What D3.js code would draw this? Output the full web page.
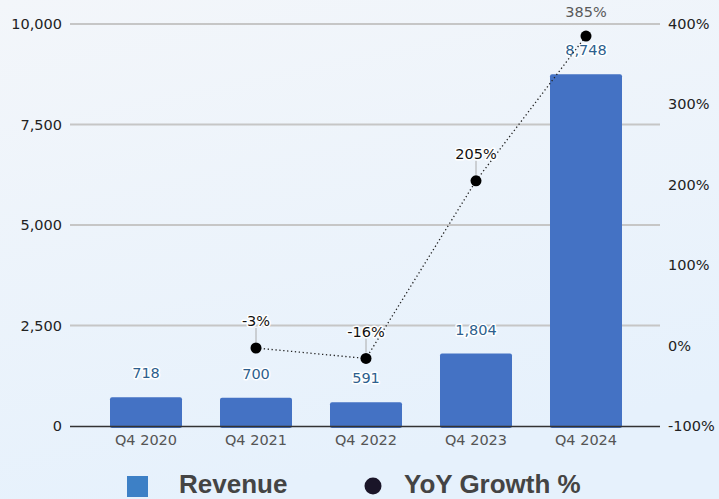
<!DOCTYPE html>
<html><head><meta charset="utf-8">
<script src="https://cdn.jsdelivr.net/npm/d3@7/dist/d3.min.js"></script>
<style>body{margin:0;}svg{display:block;}</style>
</head><body>
<svg id="c" width="719" height="499"></svg>
<script>
const categories = ["Q4 2020","Q4 2021","Q4 2022","Q4 2023","Q4 2024"];
const revenue = [718, 700, 591, 1804, 8748];
const growth = [null, -3, -16, 205, 385];
const revenueTicks = [0, 2500, 5000, 7500, 10000];
const growthTicks = [-100, 0, 100, 200, 300, 400];

(function(){
const svg = d3.select("#c");
const W = 719, H = 499;
const defs = svg.append("defs");
const grad = defs.append("linearGradient").attr("id","bg").attr("x1","0").attr("y1","0").attr("x2","0.3").attr("y2","1");
grad.append("stop").attr("offset","0").attr("stop-color","#f3f6fa");
grad.append("stop").attr("offset","1").attr("stop-color","#e6f1fc");
svg.append("rect").attr("width",W).attr("height",H).attr("fill","url(#bg)");

const pLeft = 70, pRight = 660, pTop = 24, pBottom = 426;
const x = d3.scaleBand().domain(categories).range([91, 641]).paddingInner(0.345).paddingOuter(0.1725);
const y = d3.scaleLinear().domain([0, 10000]).range([pBottom, pTop]);
const y2 = d3.scaleLinear().domain([-100, 400]).range([pBottom, pTop]);

svg.append("g").selectAll("line").data(revenueTicks.filter(d=>d>0)).join("line")
  .attr("x1", pLeft).attr("x2", pRight).attr("y1", d=>y(d)).attr("y2", d=>y(d))
  .attr("stroke", "#c6c6c6").attr("stroke-width", 2);

const font = "DejaVu Sans, Verdana, sans-serif";
const fs = 14.5;
svg.append("g").selectAll("text").data(revenueTicks).join("text")
  .attr("x", 62).attr("y", d=>y(d)).attr("dy","0.35em").attr("text-anchor","end")
  .attr("font-family", font).attr("font-size", fs).attr("fill","#222")
  .text(d=>d3.format(",")(d));
svg.append("g").selectAll("text").data(growthTicks).join("text")
  .attr("x", 668).attr("y", d=>y2(d)).attr("dy","0.35em").attr("text-anchor","start")
  .attr("font-family", font).attr("font-size", fs).attr("fill","#222")
  .text(d=>d+"%");

const bw = 72;
svg.append("g").selectAll("rect").data(revenue).join("rect")
  .attr("x", (d,i)=>x(categories[i]) + x.bandwidth()/2 - bw/2)
  .attr("width", bw)
  .attr("y", d=>y(d)).attr("height", d=>pBottom - y(d) + 2)
  .attr("rx", 2).attr("fill", "#4472c4");

svg.append("line").attr("x1", pLeft).attr("x2", pRight).attr("y1", pBottom+0.5).attr("y2", pBottom+0.5)
  .attr("stroke", "#333").attr("stroke-width", 1.5);

svg.append("g").selectAll("text").data(categories).join("text")
  .attr("x", d=>x(d)+x.bandwidth()/2).attr("y", 440).attr("dy","0.35em").attr("text-anchor","middle")
  .attr("font-family", font).attr("font-size", fs).attr("fill","#555")
  .text(d=>d);

svg.append("g").selectAll("text").data(revenue).join("text")
  .attr("x", (d,i)=>x(categories[i])+x.bandwidth()/2).attr("y", d=>y(d)-24).attr("dy","0.35em")
  .attr("text-anchor","middle").attr("font-family", font).attr("font-size", fs)
  .attr("fill","#2d5f8e").attr("stroke","#fff").attr("stroke-width",3).attr("paint-order","stroke")
  .attr("stroke-linejoin","round")
  .text(d=>d3.format(",")(d));

const pts = growth.map((g,i)=>({g, c: categories[i]})).filter(d=>d.g!==null);
const cx = d=>x(d.c)+x.bandwidth()/2;
const line = d3.line().x(cx).y(d=>y2(d.g));
svg.append("path").datum(pts).attr("d", line).attr("fill","none")
  .attr("stroke","#222").attr("stroke-width",1.3).attr("stroke-dasharray","1.3,2.6");

const lead = pts.filter(d=>d.g < 380);
svg.append("g").selectAll("line").data(lead).join("line")
  .attr("x1", cx).attr("x2", cx).attr("y1", d=>y2(d.g)-6).attr("y2", d=>y2(d.g)-20)
  .attr("stroke","#aaa").attr("stroke-width",1);

svg.append("g").selectAll("circle").data(pts).join("circle")
  .attr("cx", cx).attr("cy", d=>y2(d.g)).attr("r", 5.5).attr("fill","#000");

svg.append("g").selectAll("text").data(pts).join("text")
  .attr("x", cx).attr("y", d=>y2(d.g) - (d.g>=380 ? 24 : 27)).attr("dy","0.35em").attr("text-anchor","middle")
  .attr("font-family", font).attr("font-size", fs)
  .attr("fill", d=>d.g>=380 ? "#5a5a5a" : "#111")
  .attr("stroke", d=>d.g>=380 ? "none" : "#fff").attr("stroke-width",3).attr("paint-order","stroke")
  .attr("stroke-linejoin","round")
  .text(d=>d.g+"%");

const lg = svg.append("g");
const lf = "Liberation Sans, Arial, sans-serif";
lg.append("rect").attr("x",127).attr("y",476).attr("width",21).attr("height",21).attr("fill","#3d80c6");
lg.append("text").attr("x",179).attr("y",493).attr("font-family",lf)
  .attr("font-weight","bold").attr("font-size",26).attr("fill","#444").text("Revenue");
lg.append("circle").attr("cx",373).attr("cy",486).attr("r",8.5).attr("fill","#1a1528");
lg.append("text").attr("x",404).attr("y",493).attr("font-family",lf)
  .attr("font-weight","bold").attr("font-size",26).attr("fill","#444").text("YoY Growth %");
})();
</script>
</body></html>
